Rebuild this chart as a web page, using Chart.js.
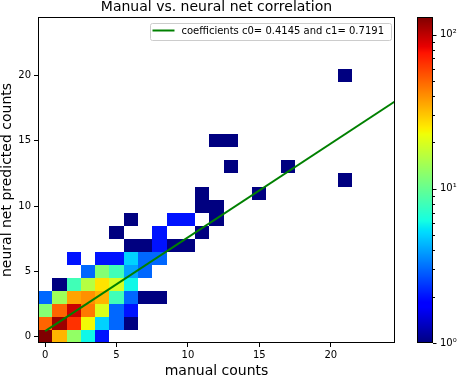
<!DOCTYPE html>
<html>
<head>
<meta charset="utf-8">
<script src="https://cdn.jsdelivr.net/npm/chart.js@4.4.0/dist/chart.umd.min.js"></script>
<style>
  html, body { margin: 0; padding: 0; background: #fff; }
  #wrap { position: relative; width: 459px; height: 378px; }
  #main { position: absolute; left: 0; top: 0; }
  #cbar { position: absolute; left: 400px; top: 0; }
</style>
</head>
<body>
<div id="wrap">
  <canvas id="main" width="459" height="378"></canvas>
  <canvas id="cbar" width="59" height="378"></canvas>
</div>
<script>
const titleText = "Manual vs. neural net correlation";
const xLabel = "manual counts";
const yLabel = "neural net predicted counts";
const fitLabel = "coefficients c0= 0.4145 and c1= 0.7191";

// 2D histogram: bin centre (manual, predicted) and count in that bin
const cellX = [
  0, 1, 2, 3, 4,
  0, 1, 2, 3, 4, 5, 6,
  0, 1, 2, 3, 4, 5, 6,
  0, 1, 2, 3, 4, 5, 6, 7, 8,
  1, 2, 3, 4, 5, 6,
  3, 4, 5, 6, 7,
  2, 4, 5, 6, 7, 8,
  6, 7, 8, 9, 10,
  5, 8, 11,
  6, 9, 10, 12,
  11, 12,
  11, 15,
  21,
  13, 17,
  12, 13,
  21
];
const cellY = [
  0, 0, 0, 0, 0,
  1, 1, 1, 1, 1, 1, 1,
  2, 2, 2, 2, 2, 2, 2,
  3, 3, 3, 3, 3, 3, 3, 3, 3,
  4, 4, 4, 4, 4, 4,
  5, 5, 5, 5, 5,
  6, 6, 6, 6, 6, 6,
  7, 7, 7, 7, 7,
  8, 8, 8,
  9, 9, 9, 9,
  10, 10,
  11, 11,
  12,
  13, 13,
  15, 15,
  20
];
const cellCount = [
  130, 33, 13, 6, 2,
  50, 115, 65, 23, 5, 3, 1,
  12, 50, 95, 45, 20, 3, 2,
  3, 14, 36, 40, 33, 8, 3, 1, 1,
  1, 8, 16, 26, 19, 6,
  3, 12, 8, 4, 3,
  2, 2, 2, 5, 3, 3,
  1, 1, 2, 1, 1,
  1, 2, 1,
  1, 2, 2, 1,
  1, 1,
  1, 1,
  1,
  1, 1,
  1, 1,
  1
];

// fitted line end points
const fitX = [0, 25];
const fitY = [0.4145, 18.392];

const xTicks = [0, 5, 10, 15, 20];
const yTicks = [0, 5, 10, 15, 20];
const cbarTicks = [1, 10, 100];
const cbarLabels = ["10\u2070", "10\u00b9", "10\u00b2"];
const countMin = 1;
const countMax = 130;

const FONT = "DejaVu Sans";

function lerpTable(t, pts) {
  for (let k = 1; k < pts.length; k++) {
    if (t <= pts[k][0]) {
      const [x0, y0] = pts[k - 1], [x1, y1] = pts[k];
      return y0 + (y1 - y0) * (t - x0) / (x1 - x0);
    }
  }
  return pts[pts.length - 1][1];
}

function jet(t) {
  t = Math.max(0, Math.min(1, t));
  const r = lerpTable(t, [[0, 0], [0.35, 0], [0.66, 1], [0.89, 1], [1, 0.5]]);
  const g = lerpTable(t, [[0, 0], [0.125, 0], [0.375, 1], [0.64, 1], [0.91, 0], [1, 0]]);
  const b = lerpTable(t, [[0, 0.5], [0.11, 1], [0.34, 1], [0.65, 0], [1, 0]]);
  return `rgb(${Math.round(r * 255)},${Math.round(g * 255)},${Math.round(b * 255)})`;
}

function logNorm(v) {
  return Math.log(v / countMin) / Math.log(countMax / countMin);
}

const cells = cellX.map((x, k) => ({ x, y: cellY[k], v: cellCount[k] }));
const fitPoints = fitX.map((x, k) => ({ x, y: fitY[k] }));

// draws the histogram bins as rectangles through the scales
const heatmapPlugin = {
  id: "heatmap",
  beforeDatasetsDraw(chart) {
    const { ctx, chartArea, scales: { x, y } } = chart;
    ctx.save();
    ctx.beginPath();
    ctx.rect(chartArea.left, chartArea.top, chartArea.right - chartArea.left, chartArea.bottom - chartArea.top);
    ctx.clip();
    chart.data.datasets[0].data.forEach(c => {
      const x0 = Math.round(x.getPixelForValue(c.x - 0.5));
      const x1 = Math.round(x.getPixelForValue(c.x + 0.5));
      const y0 = Math.round(y.getPixelForValue(c.y + 0.5));
      const y1 = Math.round(y.getPixelForValue(c.y - 0.5));
      ctx.fillStyle = jet(logNorm(c.v));
      ctx.fillRect(x0, y0, x1 - x0, y1 - y0);
    });
    ctx.restore();
  }
};

const framePlugin = {
  id: "frame",
  afterDatasetsDraw(chart) {
    const { ctx, chartArea: a } = chart;
    ctx.save();
    ctx.strokeStyle = "#000";
    ctx.lineWidth = 1;
    ctx.strokeRect(Math.round(a.left) + 0.5, Math.round(a.top) + 0.5,
      Math.round(a.right) - Math.round(a.left) - 1, Math.round(a.bottom) - Math.round(a.top) - 1);
    ctx.restore();
  }
};

// matplotlib style legend inside the axes, upper right
const legendBoxPlugin = {
  id: "legendBox",
  afterDraw(chart) {
    const { ctx, chartArea: a } = chart;
    const ds = chart.data.datasets[1];
    ctx.save();
    ctx.font = `10px "${FONT}"`;
    const textW = ctx.measureText(ds.label).width;
    const right = a.right - 5;
    const top = a.top + 6;
    const h = 17;
    const textX = right - 6 - textW;
    const lineEnd = textX - 7;
    const lineStart = lineEnd - 22;
    const left = lineStart - 3;
    ctx.fillStyle = "rgba(255,255,255,0.8)";
    ctx.strokeStyle = "#cccccc";
    ctx.lineWidth = 1;
    ctx.beginPath();
    ctx.roundRect(Math.round(left) + 0.5, top + 0.5, Math.round(right - left), h, 2);
    ctx.fill();
    ctx.stroke();
    ctx.strokeStyle = ds.borderColor;
    ctx.lineWidth = 2;
    ctx.beginPath();
    ctx.moveTo(lineStart, top + 7.5);
    ctx.lineTo(lineEnd, top + 7.5);
    ctx.stroke();
    ctx.fillStyle = "#000";
    ctx.textBaseline = "middle";
    ctx.fillText(ds.label, textX, top + 8);
    ctx.restore();
  }
};

const tickFont = { family: FONT, size: 10 };
const labelFont = { family: FONT, size: 14, lineHeight: 1 };

new Chart(document.getElementById("main"), {
  type: "scatter",
  data: {
    datasets: [
      { label: "counts", data: cells, pointRadius: 0, pointHoverRadius: 0 },
      {
        label: fitLabel, data: fitPoints, showLine: true,
        borderColor: "#008000", borderWidth: 2, pointRadius: 0, pointHoverRadius: 0, fill: false
      }
    ]
  },
  options: {
    responsive: false,
    animation: false,
    events: [],
    layout: { padding: { top: 0, left: 0, right: 64, bottom: 0 } },
    plugins: {
      legend: { display: false },
      tooltip: { enabled: false },
      title: {
        display: true, text: titleText, fullSize: false, color: "#000",
        font: { family: FONT, size: 14, weight: "normal", lineHeight: 1 },
        padding: { top: 0, bottom: 3 }
      }
    },
    scales: {
      x: {
        type: "linear", min: -0.5, max: 24.5,
        afterBuildTicks: axis => { axis.ticks = xTicks.map(v => ({ value: v })); },
        afterFit: axis => { axis.height = 35; },
        grid: { drawOnChartArea: false, drawTicks: true, tickLength: 4, color: "#000" },
        border: { display: false },
        ticks: { autoSkip: false, maxRotation: 0, padding: 2, color: "#000", font: tickFont },
        title: { display: true, text: xLabel, color: "#000", font: labelFont, padding: { top: 0, bottom: 0 } }
      },
      y: {
        type: "linear", min: -0.5, max: 24.5,
        afterBuildTicks: axis => { axis.ticks = yTicks.map(v => ({ value: v })); },
        afterFit: axis => { axis.width = 38; },
        grid: { drawOnChartArea: false, drawTicks: true, tickLength: 4, color: "#000" },
        border: { display: false },
        ticks: { autoSkip: false, padding: 3, color: "#000", font: tickFont },
        title: { display: true, text: yLabel, color: "#000", font: labelFont, padding: { top: 0, bottom: 0 } }
      }
    }
  },
  plugins: [heatmapPlugin, framePlugin, legendBoxPlugin]
});

// colorbar: gradient and tick marks drawn from the log scale
const minorTicks = [];
for (let d = 1; d <= 10; d *= 10) {
  for (let m = 2; m <= 9; m++) minorTicks.push(m * d);
}

const colorbarPlugin = {
  id: "colorbar",
  afterDraw(chart) {
    const { ctx, chartArea: a, scales: { y } } = chart;
    ctx.save();
    const top = Math.round(a.top), bottom = Math.round(a.bottom);
    const left = Math.round(a.left), right = Math.round(a.right);
    for (let py = top; py < bottom; py++) {
      const v = y.getValueForPixel(py + 0.5);
      ctx.fillStyle = jet(logNorm(v));
      ctx.fillRect(left, py, right - left, 1);
    }
    ctx.strokeStyle = "#000";
    ctx.lineWidth = 1;
    ctx.strokeRect(left + 0.5, top + 0.5, right - left - 1, bottom - top - 1);
    ctx.beginPath();
    cbarTicks.forEach(v => {
      const py = Math.round(y.getPixelForValue(v)) + 0.5;
      ctx.moveTo(right, py);
      ctx.lineTo(right + 3.5, py);
    });
    minorTicks.filter(v => v < countMax).forEach(v => {
      const py = Math.round(y.getPixelForValue(v)) + 0.5;
      ctx.moveTo(right, py);
      ctx.lineTo(right + 2, py);
    });
    ctx.stroke();
    ctx.restore();
  }
};

new Chart(document.getElementById("cbar"), {
  type: "scatter",
  data: { datasets: [{ data: [] }] },
  options: {
    responsive: false,
    animation: false,
    events: [],
    layout: { padding: { top: 17, left: 17, bottom: 35, right: 0 } },
    plugins: { legend: { display: false }, tooltip: { enabled: false }, title: { display: false } },
    scales: {
      x: { display: false, min: 0, max: 1 },
      y: {
        type: "logarithmic", position: "right", min: countMin, max: countMax,
        afterBuildTicks: axis => { axis.ticks = cbarTicks.map(v => ({ value: v })); },
        afterFit: axis => { axis.width = 26; },
        grid: { drawOnChartArea: false, drawTicks: true, tickLength: 4, color: "rgba(0,0,0,0)" },
        border: { display: false },
        ticks: {
          autoSkip: false, padding: 3, color: "#000", font: tickFont,
          callback: (value, index) => cbarLabels[index]
        }
      }
    }
  },
  plugins: [colorbarPlugin]
});
</script>
</body>
</html>
